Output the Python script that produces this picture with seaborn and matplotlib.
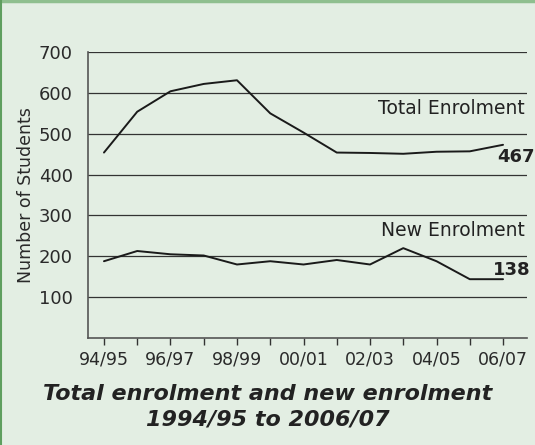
import seaborn as sns
import matplotlib.pyplot as plt
import pandas as pd
from matplotlib.lines import Line2D

years = ["94/95", "95/96", "96/97", "97/98", "98/99", "99/00", "00/01",
         "01/02", "02/03", "03/04", "04/05", "05/06", "06/07"]
total_enrolment = [454, 554, 604, 622, 631, 550, 503, 454, 453, 451, 456, 457, 473]
new_enrolment = [188, 213, 205, 202, 180, 188, 180, 191, 180, 220, 188, 144, 144]

df = pd.DataFrame({
    "idx": list(range(len(years))) * 2,
    "students": total_enrolment + new_enrolment,
    "series": ["Total"] * len(years) + ["New"] * len(years),
})

sns.set_style("white")
plt.rcParams['font.family'] = ['DejaVu Sans']

bg = "#e3eee3"
fig = plt.figure(figsize=(5.35, 4.45), dpi=100, facecolor=bg)
ax = fig.add_axes([0.1645, 0.2404, 0.8205, 0.6426])
ax.set_facecolor(bg)

# frame lines at top and left of figure
fig.add_artist(Line2D([0, 1], [0.997, 0.997], transform=fig.transFigure, color="#8fbf8f", lw=2.5))
fig.add_artist(Line2D([0.002, 0.002], [0, 1], transform=fig.transFigure, color="#5f9f5f", lw=1.5))

for v in range(100, 701, 100):
    ax.axhline(v, color="#333333", lw=0.9, zorder=1)

sns.lineplot(data=df, x="idx", y="students", units="series", estimator=None,
             color="#1a1a1a", lw=1.4, ax=ax, zorder=3)

ax.set_xlim(-0.48, 12.72)
ax.set_ylim(0, 700)
ax.set_yticks(range(100, 701, 100))
ax.set_xticks(range(len(years)))
ax.set_xticklabels([y if i % 2 == 0 else "" for i, y in enumerate(years)])
ax.tick_params(axis="x", direction="out", length=5, width=1, color="#333333",
               labelsize=12.5, labelcolor="#2a2a2a", pad=4, bottom=True)
ax.tick_params(axis="y", length=0, labelsize=13, labelcolor="#2a2a2a", pad=11)

for s in ["top", "right"]:
    ax.spines[s].set_visible(False)
for s in ["left", "bottom"]:
    ax.spines[s].set_color("#555555")
    ax.spines[s].set_linewidth(1.2)

ax.set_xlabel("")
ax.set_ylabel("Number of Students", fontsize=12.5, color="#2a2a2a", labelpad=3)

ax.text(12.66, 563, "Total Enrolment", ha="right", va="center", fontsize=13.5, color="#222222")
ax.text(11.82, 443, "467", ha="left", va="center", fontsize=13, fontweight="bold", color="#222222")
ax.text(12.66, 264, "New Enrolment", ha="right", va="center", fontsize=13.5, color="#222222")
ax.text(11.7, 166, "138", ha="left", va="center", fontsize=13, fontweight="bold", color="#222222")

fig.text(0.5, 0.085, "Total enrolment and new enrolment\n1994/95 to 2006/07",
         ha="center", va="center", fontsize=16, fontweight="bold", fontstyle="italic",
         color="#222222", linespacing=1.35)

fig.savefig("out.png", dpi=100, facecolor=bg)
